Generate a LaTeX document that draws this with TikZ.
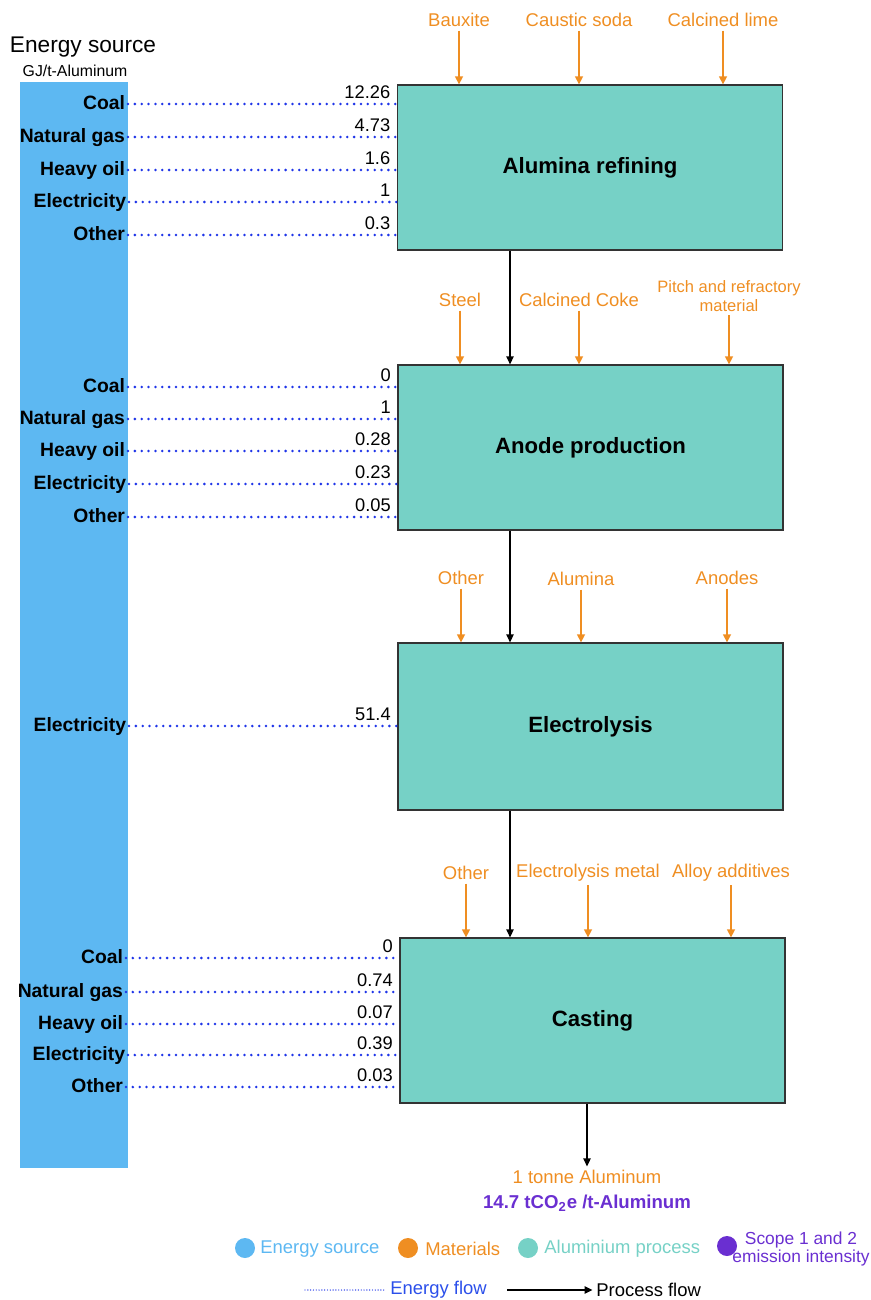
\documentclass[tikz,border=0pt]{standalone}
\usepackage{fontspec}
\setmainfont{Liberation Sans}
\usetikzlibrary{arrows,arrows.meta}

\definecolor{srcblue}{HTML}{5DB8F2}
\definecolor{procgreen}{HTML}{76D1C6}
\definecolor{matorange}{HTML}{EF8E22}
\definecolor{emipurple}{HTML}{6A2FD1}
\definecolor{flowblue}{HTML}{1F35E8}

\tikzset{
  process/.style={draw=black!80, line width=0.75pt, fill=procgreen, inner sep=0pt,
    minimum width=7.7cm, minimum height=3.3cm, font=\fontsize{12.6}{15}\selectfont\bfseries},
  source/.style={anchor=east, inner sep=1.5pt, text height=1.5ex, text depth=0.35ex,
    font=\fontsize{11}{12}\selectfont\bfseries},
  value/.style={anchor=south east, inner sep=1pt, xshift=-2pt, yshift=1.5pt, text=black,
    font=\fontsize{10.4}{12}\selectfont},
  material/.style={text=matorange, inner sep=2pt, align=center, font=\fontsize{10.5}{12}\selectfont},
  eflow/.style={flowblue, line width=1.6pt, line cap=round, dash pattern=on 0pt off 3.9pt},
  mflow/.style={matorange, line width=0.8pt, -{Triangle[length=4.5pt,width=4.5pt]}},
  pflow/.style={black, line width=0.7pt, -{Triangle[length=4.5pt,width=4.2pt]}},
  legdot/.style={circle, inner sep=0pt, minimum size=0.4cm},
  legtext/.style={anchor=west, inner sep=0pt, font=\fontsize{10.5}{12}\selectfont},
}

\begin{document}
\begin{tikzpicture}[x=0.02cm, y=-0.02cm]
\useasboundingbox (0,0) rectangle (871,1300);

\fill[srcblue] (20,82) rectangle (128,1168);
\node[font=\fontsize{12.9}{15}\selectfont] (title) at (83,47) {Energy source};
\node[font=\fontsize{9}{11}\selectfont] (unit) at (75,71) {GJ/t-Aluminum};

\node[process] (alumina) at (590,167.5) {Alumina refining};
\node[process] (anode) at (590.5,447.5) {Anode production};
\node[process, minimum height=3.34cm] (electro) at (590.5,726.5) {Electrolysis};
\node[process] (casting) at (592.5,1020.5) {Casting};

\coordinate (px) at (510,0);
\draw[pflow] (alumina.south -| px) -- (anode.north -| px);
\draw[pflow] (anode.south -| px) -- (electro.north -| px);
\draw[pflow] (electro.south -| px) -- (casting.north -| px);

\node[material] (tonne) at (587,1177) {1 tonne Aluminum};
\draw[pflow] (casting.south -| tonne) -- (tonne.north);
\node[text=emipurple, font=\fontsize{10.6}{12}\selectfont\bfseries] (emission) at (587,1203)
  {14.7 tCO\textsubscript{2}e /t-Aluminum};

% materials
\node[material] (bauxite) at (459,20) {Bauxite};
\node[material] (soda) at (579,20) {Caustic soda};
\node[material] (lime) at (723,20) {Calcined lime};
\draw[mflow] (bauxite.south) -- (bauxite.south |- alumina.north);
\draw[mflow] (soda.south) -- (soda.south |- alumina.north);
\draw[mflow] (lime.south) -- (lime.south |- alumina.north);

\node[material] (steel) at (460,300) {Steel};
\node[material] (coke) at (579,300) {Calcined Coke};
\node[material, font=\fontsize{9.4}{10.8}\selectfont] (pitch) at (729,296) {Pitch and refractory\\material};
\draw[mflow] (steel.south) -- (steel.south |- anode.north);
\draw[mflow] (coke.south) -- (coke.south |- anode.north);
\draw[mflow] (pitch.south) -- (pitch.south |- anode.north);

\node[material] (other1) at (461,578) {Other};
\node[material] (aluminamat) at (581,579) {Alumina};
\node[material] (anodes) at (727,578) {Anodes};
\draw[mflow] (other1.south) -- (other1.south |- electro.north);
\draw[mflow] (aluminamat.south) -- (aluminamat.south |- electro.north);
\draw[mflow] (anodes.south) -- (anodes.south |- electro.north);

\node[material] (other2) at (466,873) {Other};
\node[material] (metal) at (588,873) {Electrolysis metal};
\node[material] (alloy) at (731,873) {Alloy additives};
\draw[mflow] (other2.south) -- (other2.south |- casting.north);
\draw[mflow] (metal.south) -- (metal.south |- casting.north);
\draw[mflow] (alloy.south) -- (alloy.south |- casting.north);

% energy flows
\node[source] (ac) at (128,104) {Coal};
\node[source] (ag) at (128,137) {Natural gas};
\node[source] (ao) at (128,170) {Heavy oil};
\node[source] (ae) at (129,202) {Electricity};
\node[source] (ax) at (128,235) {Other};
\draw[eflow] (ac.east) -- (ac.east -| alumina.west) node[value] {12.26};
\draw[eflow] (ag.east) -- (ag.east -| alumina.west) node[value] {4.73};
\draw[eflow] (ao.east) -- (ao.east -| alumina.west) node[value] {1.6};
\draw[eflow] (ae.east) -- (ae.east -| alumina.west) node[value] {1};
\draw[eflow] (ax.east) -- (ax.east -| alumina.west) node[value] {0.3};

\node[source] (bc) at (128,387) {Coal};
\node[source] (bg) at (128,419) {Natural gas};
\node[source] (bo) at (128,451) {Heavy oil};
\node[source] (be) at (129,484) {Electricity};
\node[source] (bx) at (128,517) {Other};
\draw[eflow] (bc.east) -- (bc.east -| anode.west) node[value] {0};
\draw[eflow] (bg.east) -- (bg.east -| anode.west) node[value] {1};
\draw[eflow] (bo.east) -- (bo.east -| anode.west) node[value] {0.28};
\draw[eflow] (be.east) -- (be.east -| anode.west) node[value] {0.23};
\draw[eflow] (bx.east) -- (bx.east -| anode.west) node[value] {0.05};

\node[source] (ce) at (129,726) {Electricity};
\draw[eflow] (ce.east) -- (ce.east -| electro.west) node[value] {51.4};

\node[source] (dc) at (126,958) {Coal};
\node[source] (dg) at (126,992) {Natural gas};
\node[source] (do) at (126,1024) {Heavy oil};
\node[source] (de) at (128,1055) {Electricity};
\node[source] (dx) at (126,1087) {Other};
\draw[eflow] (dc.east) -- (dc.east -| casting.west) node[value] {0};
\draw[eflow] (dg.east) -- (dg.east -| casting.west) node[value] {0.74};
\draw[eflow] (do.east) -- (do.east -| casting.west) node[value] {0.07};
\draw[eflow] (de.east) -- (de.east -| casting.west) node[value] {0.39};
\draw[eflow] (dx.east) -- (dx.east -| casting.west) node[value] {0.03};

% legend
\node[legdot, fill=srcblue] (l1) at (245,1248) {};
\node[legtext, text=srcblue] (t1) at (260,1249) {Energy source};
\node[legdot, fill=matorange] (l2) at (408,1248) {};
\node[legtext, text=matorange] (t2) at (425,1249) {Materials};
\node[legdot, fill=procgreen] (l3) at (528,1248) {};
\node[legtext, text=procgreen] (t3) at (544,1249) {Aluminium process};
\node[legdot, fill=emipurple] (l4) at (727,1246) {};
\node[text=emipurple, align=center, inner sep=0pt, font=\fontsize{9.9}{10.4}\selectfont] (t4) at (801,1249)
  {Scope 1 and 2\\emission intensity};

\coordinate (e0) at (305,1290);
\node[legtext, text=flowblue!80!srcblue] (t5) at (390,1290) {Energy flow};
\draw[flowblue, line width=0.8pt, line cap=round, dash pattern=on 0pt off 1.6pt] (e0) -- ([xshift=-2pt]t5.west);
\coordinate (p0) at (507,1290);
\node[legtext] (t6) at (596,1290) {Process flow};
\draw[pflow] (p0) -- ([xshift=-2pt]t6.west);
\end{tikzpicture}
\end{document}
